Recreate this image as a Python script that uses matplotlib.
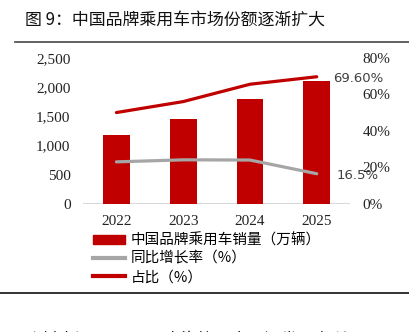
import numpy as np
import matplotlib
matplotlib.use("Agg")
from matplotlib import pyplot as plt
from matplotlib.lines import Line2D
from matplotlib.patches import Patch

# Data
years = ["2022", "2023", "2024", "2025"]
sales = [1177, 1460, 1800, 2100]          # 万辆
growth = [23.0, 24.1, 24.0, 16.5]         # 同比增长率 %
share = [50.0, 56.0, 65.5, 69.6]          # 占比 %

red = "#c00000"
grey = "#a6a6a6"
serif = "Liberation Serif"
cjk = ["Noto Sans CJK SC", "DejaVu Sans"]

fig = plt.figure(figsize=(4.09, 3.32), dpi=100)
ax = fig.add_axes([0.203, 0.386, 0.653, 0.44])
ax2 = ax.twinx()

x = np.arange(len(years))
ax.bar(x, sales, width=0.4, color=red, zorder=2)
ax.set_xlim(-0.5, 3.5)
ax.set_ylim(0, 2500)
ax.set_yticks(np.arange(0, 2501, 500))
ax.set_yticklabels([f"{v:,}" for v in range(0, 2501, 500)])
ax.set_xticks(x)
ax.set_xticklabels(years)

ax2.plot(x, growth, color=grey, lw=2.3, solid_capstyle="round", zorder=3)
ax2.plot(x, share, color=red, lw=2.3, solid_capstyle="round", zorder=3)
ax2.set_ylim(0, 80)
ax2.set_yticks(np.arange(0, 81, 20))
ax2.set_yticklabels([f"{v}%" for v in range(0, 81, 20)])

for a in (ax, ax2):
    for s in a.spines.values():
        s.set_visible(False)
    a.tick_params(length=0, labelsize=11, colors="#222222")
    for lab in a.get_xticklabels() + a.get_yticklabels():
        lab.set_fontfamily(serif)
ax.tick_params(axis="y", pad=9)
ax2.tick_params(axis="y", pad=9)
ax.tick_params(axis="x", pad=8)
ax.axhline(0, color="#d9d9d9", lw=1.5, zorder=1)

ax2.annotate("69.60%", (3, share[-1]), xytext=(12, -1), textcoords="offset points",
             va="center", ha="left", fontsize=9.5, color="#404040")
ax2.annotate("16.5%", (3, growth[-1]), xytext=(14, -1), textcoords="offset points",
             va="center", ha="left", fontsize=9.5, color="#404040")

handles = [Patch(color=red),
           Line2D([], [], color=grey, lw=3),
           Line2D([], [], color=red, lw=3)]
labels = ["中国品牌乘用车销量（万辆）", "同比增长率（%）", "占比（%）"]
fig.legend(handles, labels, loc="upper left", bbox_to_anchor=(0.227, 0.298),
           frameon=False, prop={"family": cjk, "size": 10.5},
           handlelength=2.2, handleheight=0.6, handletextpad=0.4,
           labelspacing=0.3, borderpad=0, borderaxespad=0)

fig.text(0.061, 0.94, "图 9：中国品牌乘用车市场份额逐渐扩大", fontsize=12.2,
         family=cjk, va="center", ha="left", color="#111111")
fig.add_artist(Line2D([0.037, 1], [0.873, 0.873], color="#555555", lw=1.3))
fig.add_artist(Line2D([0, 1], [0.117, 0.117], color="#222222", lw=1.3))
fig.text(0.061, 0.0, "资料来源：Wind，中汽协，山西证券研究所", fontsize=12,
         family=cjk, va="top", ha="left", color="#111111")

fig.savefig("out.png", dpi=100)
